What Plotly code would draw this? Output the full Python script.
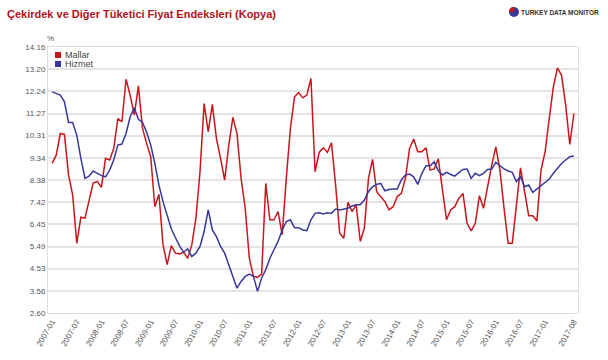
import plotly.graph_objects as go

months = [f"{y}-{m:02d}" for y in range(2007, 2018) for m in range(1, 13)][:128]

mallar = [9.10, 9.46, 10.40, 10.36, 8.60, 7.73, 5.63, 6.76, 6.72, 7.44, 8.26, 8.31,
          8.06, 9.32, 9.25, 9.75, 11.05, 10.91, 12.76, 12.06, 11.20, 12.47, 10.62, 9.97,
          9.39, 7.22, 7.76, 5.56, 4.70, 5.53, 5.20, 5.17, 5.24, 4.98, 5.56, 6.72,
          8.74, 11.70, 10.47, 11.67, 10.18, 9.32, 8.38, 9.90, 11.10, 10.40, 8.45, 7.15,
          4.98, 4.19, 4.15, 4.29, 8.23, 6.65, 6.65, 7.01, 6.00, 8.45, 10.62, 11.99,
          12.18, 11.95, 12.07, 12.79, 8.74, 9.58, 9.78, 9.58, 10.00, 8.16, 6.07, 5.85,
          7.41, 7.01, 7.30, 5.71, 6.29, 8.45, 9.28, 7.87, 7.66, 7.44, 7.08, 7.22,
          7.66, 7.80, 8.45, 9.75, 10.16, 9.61, 9.61, 9.78, 8.81, 8.86, 9.30, 8.02,
          6.65, 7.08, 7.22, 7.58, 7.80, 6.50, 6.17, 6.50, 7.70, 7.15, 8.16, 9.03,
          9.82, 8.81, 7.15, 5.63, 5.63, 7.37, 8.91, 7.87, 6.83, 6.83, 6.60, 8.81,
          9.61, 11.05, 12.43, 13.25, 12.93, 11.63, 9.93, 11.27]

hizmet = [12.21, 12.14, 12.07, 11.78, 10.88, 10.88, 10.33, 9.32, 8.45, 8.55, 8.77, 8.67,
          8.57, 8.52, 8.81, 9.25, 9.90, 9.94, 10.40, 11.13, 11.52, 11.02, 10.88, 10.47,
          9.90, 9.10, 8.16, 7.44, 6.79, 6.26, 5.88, 5.52, 5.24, 5.39, 5.05, 5.20,
          5.49, 6.14, 7.08, 6.21, 5.92, 5.49, 5.20, 4.70, 4.12, 3.68, 3.97, 4.19,
          4.29, 4.19, 3.54, 4.12, 4.48, 4.98, 5.35, 5.71, 6.21, 6.57, 6.65, 6.31,
          6.31, 6.21, 6.18, 6.65, 6.93, 6.96, 6.90, 6.96, 6.93, 7.12, 7.08, 7.12,
          7.15, 7.25, 7.30, 7.30, 7.51, 7.87, 8.09, 8.19, 8.23, 7.91, 7.97, 7.99,
          7.99, 8.38, 8.60, 8.64, 8.52, 8.19, 8.67, 9.00, 9.00, 9.17, 8.78, 8.60,
          8.71, 8.62, 8.55, 8.70, 8.84, 8.86, 8.45, 8.67, 8.57, 8.67, 8.84, 8.86,
          9.15, 9.00, 8.86, 8.77, 8.71, 8.31, 8.52, 8.09, 8.16, 7.84, 7.99, 8.16,
          8.31, 8.42, 8.67, 8.91, 9.10, 9.25, 9.39, 9.42]

y_ticks = [2.60, 3.56, 4.53, 5.49, 6.45, 7.42, 8.38, 9.34, 10.31, 11.27, 12.24, 13.20, 14.16]
x_ticks = ["2007-01", "2007-07", "2008-01", "2008-07", "2009-01", "2009-07", "2010-01",
           "2010-07", "2011-01", "2011-07", "2012-01", "2012-07", "2013-01", "2013-07",
           "2014-01", "2014-07", "2015-01", "2015-07", "2016-01", "2016-07", "2017-01",
           "2017-08"]

names = ["Mallar", "Hizmet"]
colors = ["#c8161d", "#38389a"]

fig = go.Figure()
for name, vals, col in zip(names, [mallar, hizmet], colors):
    fig.add_trace(go.Scatter(x=months, y=vals, mode="lines", name=name,
                             line=dict(color=col, width=1.5), showlegend=False))

# plot area: x 48..578, y 47..313 (px)
W, H = 530.0, 266.0
def px(x):
    return (x - 48) / W
def py(y):
    return (313 - y) / H

annotations = [
    dict(text="<b>Çekirdek ve Diğer Tüketici Fiyat Endeksleri (Kopya)</b>",
         xref="paper", yref="paper", x=px(5), y=py(14), xanchor="left", yanchor="middle",
         showarrow=False, font=dict(size=11, color="#b3121a")),
    dict(text="<b>TURKEY DATA MONITOR</b>", xref="paper", yref="paper",
         x=px(601), y=py(12), xanchor="right", yanchor="middle", showarrow=False,
         font=dict(size=6.5, color="#333")),
    dict(text="%", xref="paper", yref="paper", x=px(50), y=py(38), xanchor="center",
         yanchor="middle", showarrow=False, font=dict(size=8, color="#555")),
]
shapes = [
    dict(type="circle", xref="paper", yref="paper", x0=px(509), x1=px(519),
         y0=py(17), y1=py(7), fillcolor="#38389a", line=dict(width=0)),
    dict(type="path", xref="paper", yref="paper",
         path=f"M {px(514)} {py(12)} L {px(509)} {py(12)} Q {px(509)} {py(7)} {px(514)} {py(7)} Z",
         fillcolor="#c8161d", line=dict(width=0)),
]
for i, (name, col) in enumerate(zip(names, colors)):
    yc = 55 + i * 9
    shapes.append(dict(type="rect", xref="paper", yref="paper",
                       x0=px(55), x1=px(61), y0=py(yc + 3), y1=py(yc - 3),
                       fillcolor=col, line=dict(width=0)))
    annotations.append(dict(text=name, xref="paper", yref="paper", x=px(63), y=py(yc),
                            xanchor="left", yanchor="middle", showarrow=False,
                            font=dict(size=9, color="#444")))

fig.update_layout(
    width=608, height=360,
    margin=dict(l=48, r=30, t=47, b=47, autoexpand=False),
    paper_bgcolor="white", plot_bgcolor="white",
    font=dict(family="Arial, Liberation Sans, sans-serif", size=8, color="#444"),
    showlegend=False,
    xaxis=dict(type="category", range=[-1, 128], tickmode="array",
               tickvals=x_ticks, ticktext=x_ticks, tickangle=-60, automargin=False,
               showgrid=False, showline=True, linecolor="#dddddd", mirror=True,
               ticks="", tickfont=dict(size=8, color="#555")),
    yaxis=dict(range=[2.60, 14.16], tickmode="array", tickvals=y_ticks, automargin=False,
               ticktext=[f"{v:.2f}" for v in y_ticks],
               showgrid=True, gridcolor="#e4e4e4", gridwidth=1.5,
               showline=True, linecolor="#dddddd", mirror=True, zeroline=False,
               ticks="", tickfont=dict(size=8, color="#555")),
    annotations=annotations,
    shapes=shapes,
)

fig.write_html("out.html", config={"displayModeBar": False},
               post_script="document.body.style.margin='0';")
